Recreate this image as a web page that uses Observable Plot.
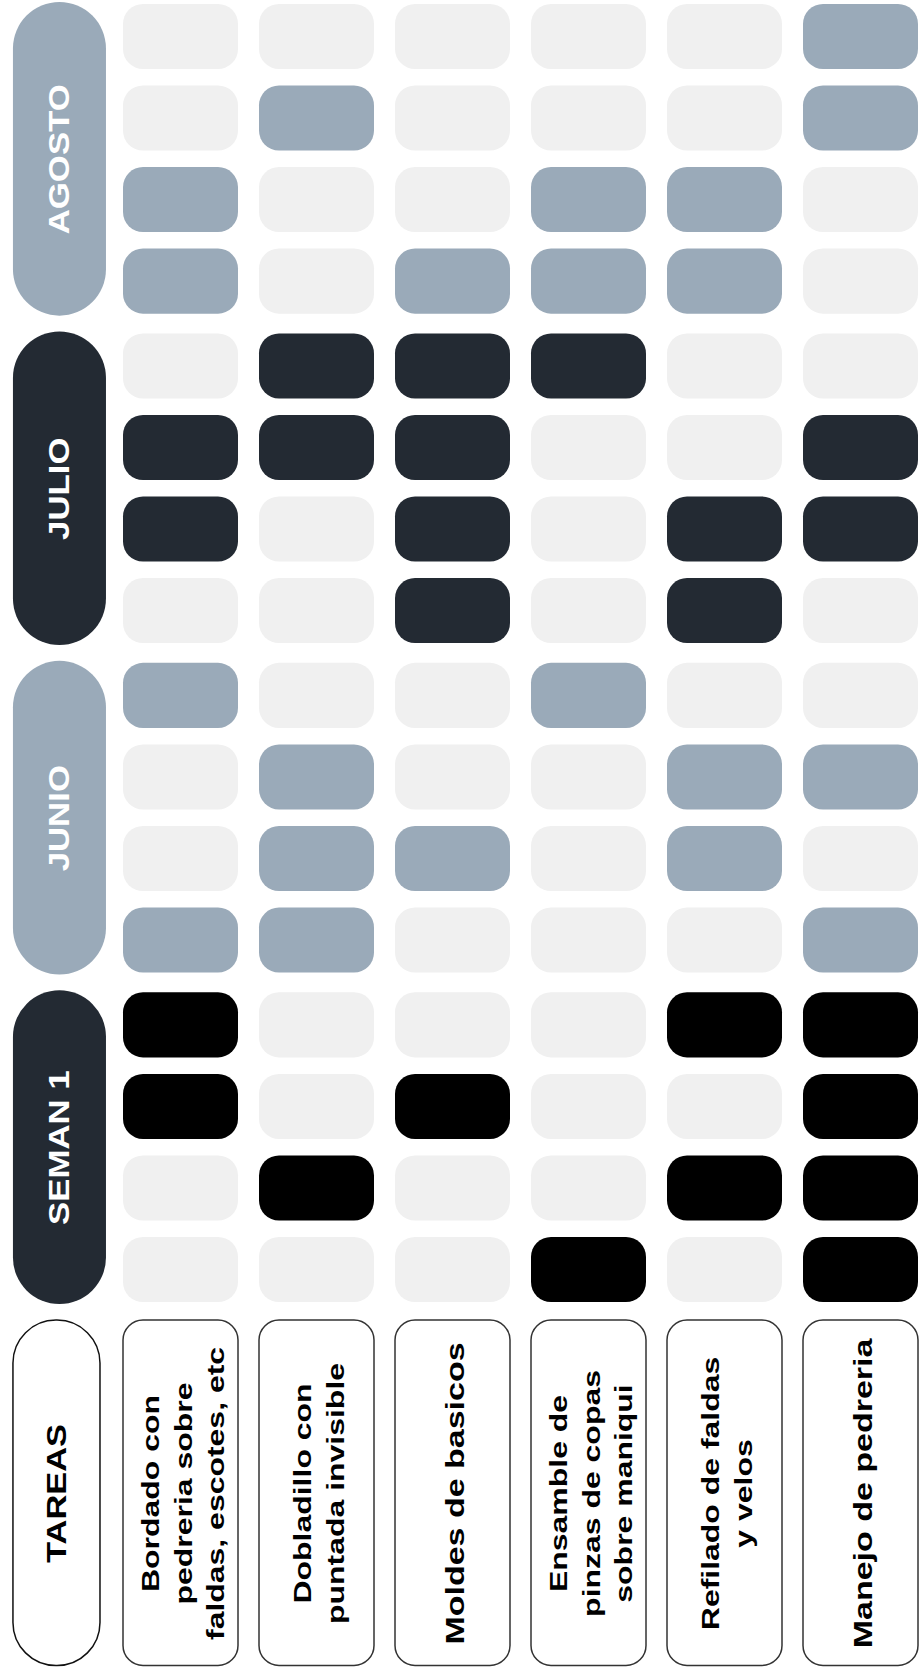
<!DOCTYPE html>
<html>
<head>
<meta charset="utf-8">
<script src="https://cdn.jsdelivr.net/npm/d3@7"></script>
<script src="https://cdn.jsdelivr.net/npm/@observablehq/plot@0.6"></script>
<style>
  html, body { margin: 0; padding: 0; background: #fff; }
  #chart svg { display: block; }
</style>
</head>
<body>
<div id="chart"></div>
<script>
// ---- data ----
const months = ["SEMAN 1", "JUNIO", "JULIO", "AGOSTO"];
const weeksPerMonth = 4;
const tasks = [
  "Bordado con\npedreria sobre\nfaldas, escotes, etc",
  "Dobladillo con\npuntada invisible",
  "Moldes de basicos",
  "Ensamble de\npinzas de copas\nsobre maniqui",
  "Refilado de faldas\ny velos",
  "Manejo de pedreria"
];
const headerLabel = "TAREAS";
// 1 = task scheduled that week (chronological: SEMAN 1 w1..w4, JUNIO w1..w4, JULIO w1..w4, AGOSTO w1..w4)
const bordado    = [0,0,1,1, 1,0,0,1, 0,1,1,0, 1,1,0,0];
const dobladillo = [0,1,0,0, 1,1,1,0, 0,0,1,1, 0,0,1,0];
const moldes     = [0,0,1,0, 0,1,0,0, 1,1,1,1, 1,0,0,0];
const ensamble   = [1,0,0,0, 0,0,0,1, 0,0,0,1, 1,1,0,0];
const refilado   = [0,1,0,1, 0,1,1,0, 1,1,0,0, 1,1,0,0];
const manejo     = [1,1,1,1, 1,0,1,0, 0,1,1,0, 0,0,1,1];
const schedule = [bordado, dobladillo, moldes, ensamble, refilado, manejo];

// ---- styles ----
const pillColors = ["#232a33", "#9aaab9", "#232a33", "#9aaab9"];
const cellColors = ["#000000", "#9aaab9", "#232a33", "#9aaab9"];
const offColor = "#f0f0f0";
const font = "'Liberation Sans', Arial, Helvetica, sans-serif";

// ---- layout (scale units) ----
const groupGap = 0.04;                       // extra space between month groups
const rowPos = (m, k) => m * (weeksPerMonth + groupGap) + k;
const pillX1 = -0.232, pillX2 = 0.452, pillXc = 0.11;
const headX1 = -0.232, headX2 = 0.408, headXc = 0.09;
const footY1 = -0.62, footY2 = -4.855, footYc = -2.74;

// ---- build tables ----
const cells = [];
schedule.forEach((arr, t) => {
  arr.forEach((on, i) => {
    const m = Math.floor(i / weeksPerMonth), k = i % weeksPerMonth;
    cells.push({col: t + 1, v: rowPos(m, k), fill: on ? cellColors[m] : offColor});
  });
});
const monthRows = months.map((label, m) => ({label, m, fill: pillColors[m]}));
const taskRows = tasks.map((label, t) => ({label, col: t + 1, lines: label.split("\n").length}));

const plot = Plot.plot({
  width: 919,
  height: 1667,
  margin: 0,
  x: {type: "linear", domain: [0.5, 6.5], range: [112.5, 928.5], axis: null},
  y: {type: "linear", domain: [-4.874, 15.567], range: [1667, 0], axis: null},
  color: {type: "identity"},
  style: {background: "#fff"},
  marks: [
    // week cells
    Plot.rect(cells, {
      x1: d => d.col - 0.5, x2: d => d.col + 0.5,
      y1: d => d.v - 0.5, y2: d => d.v + 0.5,
      insetLeft: 10.5, insetRight: 10.5, insetTop: 8.25, insetBottom: 8.25,
      rx: 20, fill: "fill"
    }),
    // month pills
    Plot.rect(monthRows, {
      x1: () => pillX1, x2: () => pillX2,
      y1: d => rowPos(d.m, 0) - 0.5, y2: d => rowPos(d.m, weeksPerMonth - 1) + 0.5,
      insetTop: 6.25, insetBottom: 6.25,
      rx: 46.5, fill: "fill"
    }),
    Plot.text(monthRows, {
      x: () => pillXc, y: d => rowPos(d.m, (weeksPerMonth - 1) / 2),
      text: "label", rotate: -90, fill: "#fff",
      fontSize: 29, fontWeight: "bold", fontFamily: font
    }),
    // header pill
    Plot.rect([headerLabel], {
      x1: () => headX1, x2: () => headX2, y1: () => footY1, y2: () => footY2,
      rx: 43, fill: "#fff", stroke: "#111", strokeWidth: 1.5
    }),
    Plot.text([headerLabel], {
      x: () => headXc, y: () => footYc, text: d => d,
      rotate: -90, fill: "#000", fontSize: 28, fontWeight: "bold", fontFamily: font
    }),
    // task boxes
    Plot.rect(taskRows, {
      x1: d => d.col - 0.5, x2: d => d.col + 0.5, y1: () => footY1, y2: () => footY2,
      insetLeft: 10.5, insetRight: 10.5,
      rx: 20, fill: "#fff", stroke: "#333", strokeWidth: 1.5
    }),
    Plot.text(taskRows, {
      x: "col", y: () => footYc, text: "label",
      rotate: -90, fill: "#000", lineAnchor: "middle", lineHeight: 1.4,
      fontSize: d => d.lines === 1 ? 25 : 23.5,
      fontWeight: "bold", fontFamily: font
    })
  ]
});

// stretch the rotated labels along their reading direction
// text groups in render order: month labels, header label, task labels
const stretches = [1.2, 1.23, 1.36];
d3.select(plot).selectAll('g[aria-label="text"]').each(function (_, gi) {
  const s = stretches[gi] || 1;
  d3.select(this).selectAll("text").each(function () {
    const t = this.getAttribute("transform") || "";
    this.setAttribute("transform", `${t} scale(${s},1)`);
  });
});

document.getElementById("chart").appendChild(plot);
</script>
</body>
</html>
